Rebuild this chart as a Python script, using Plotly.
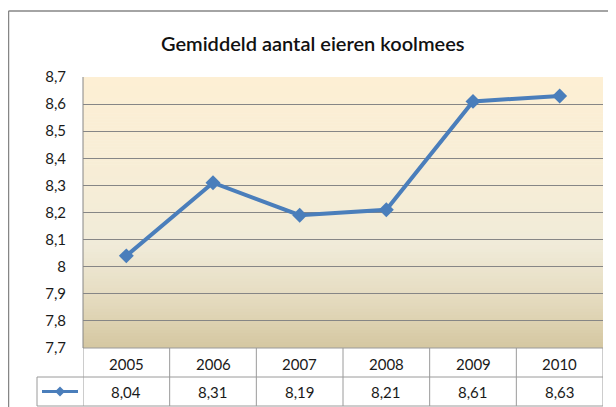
import plotly.graph_objects as go

years = ["2005", "2006", "2007", "2008", "2009", "2010"]
values = [8.04, 8.31, 8.19, 8.21, 8.61, 8.63]
title_text = "Gemiddeld aantal eieren koolmees"
y_min, y_max = 7.7, 8.7

# page has an 8px body margin; work in screen pixels, convert to figure pixels
OFF = 8
W, H = 608, 399
L, R, T, B = 83 - OFF, 603 - OFF, 77 - OFF, 348 - OFF

def px_x(p):  # screen px -> paper
    return (p - OFF - L) / (R - L)

def px_y(p):
    return (B - (p - OFF)) / (B - T)

def fmt(v):
    return f"{v:.2f}".replace(".", ",")

LINE = "#4A7EBB"
GRID = "#868686"
TXT = "#1a1a1a"
FONT = "Lato"

fig = go.Figure()
fig.add_trace(go.Scatter(
    x=list(range(len(years))), y=values, mode="lines+markers",
    line=dict(color=LINE, width=4),
    marker=dict(symbol="diamond", size=11.5, color=LINE),
    showlegend=False, hoverinfo="skip", cliponaxis=False,
))

shapes = []
stops = [(0.0, (253, 239, 212)), (0.45, (245, 237, 215)), (0.62, (240, 235, 217)),
         (0.8, (230, 221, 194)), (1.0, (213, 199, 161))]
def col(t):
    for i in range(len(stops) - 1):
        a, ca = stops[i]
        b, cb = stops[i + 1]
        if a <= t <= b:
            f = (t - a) / (b - a)
            return "rgb(%d,%d,%d)" % tuple(round(ca[k] + (cb[k] - ca[k]) * f) for k in range(3))
    return "rgb(%d,%d,%d)" % stops[-1][1]
N = 90
for i in range(N):
    t0 = i / N
    t1 = (i + 1) / N
    shapes.append(dict(type="rect", xref="paper", yref="paper", x0=0, x1=1,
                       y0=max(0, 1 - t1 - 0.002), y1=1 - t0, fillcolor=col((t0 + t1) / 2),
                       line=dict(width=0), layer="below"))

TB = "#9a9a9a"
row1, row2, row3 = 348, 377, 406
legend_left = 37
shapes.append(dict(type="line", xref="paper", yref="paper", x0=0, x1=1,
                   y0=px_y(row1), y1=px_y(row1), line=dict(color=TB, width=1)))
for yy in (row2, row3):
    shapes.append(dict(type="line", xref="paper", yref="paper", x0=px_x(legend_left), x1=1,
                       y0=px_y(yy), y1=px_y(yy), line=dict(color=TB, width=1)))
for i in range(len(years) + 1):
    shapes.append(dict(type="line", xref="x", yref="paper", x0=i - 0.5, x1=i - 0.5,
                       y0=px_y(row3), y1=px_y(row1), line=dict(color=TB, width=1)))
shapes.append(dict(type="line", xref="paper", yref="paper", x0=0, x1=0,
                   y0=px_y(row1), y1=1, line=dict(color=GRID, width=1)))
shapes.append(dict(type="line", xref="paper", yref="paper", x0=px_x(legend_left), x1=px_x(legend_left),
                   y0=px_y(row3), y1=px_y(row2), line=dict(color=TB, width=1)))
# legend key
cy = (row2 + row3) / 2
shapes.append(dict(type="line", xref="paper", yref="paper", x0=px_x(42), x1=px_x(78),
                   y0=px_y(cy), y1=px_y(cy), line=dict(color=LINE, width=3)))
cx, d = 60, 5
shapes.append(dict(type="path", xref="paper", yref="paper",
                   path="M %f %f L %f %f L %f %f L %f %f Z" % (
                       px_x(cx - d), px_y(cy), px_x(cx), px_y(cy - d),
                       px_x(cx + d), px_y(cy), px_x(cx), px_y(cy + d)),
                   fillcolor=LINE, line=dict(width=0)))
# outer chart border
shapes.append(dict(type="line", xref="paper", yref="paper", x0=px_x(8.5), x1=px_x(8.5),
                   y0=px_y(420), y1=px_y(11), line=dict(color=GRID, width=1.5)))
shapes.append(dict(type="line", xref="paper", yref="paper", x0=px_x(8.5), x1=px_x(630),
                   y0=px_y(11), y1=px_y(11), line=dict(color=GRID, width=1.5)))

annotations = []
for i, (yr, v) in enumerate(zip(years, values)):
    annotations.append(dict(x=i, xref="x", y=px_y((row1 + row2) / 2 + 1), yref="paper",
                            xanchor="center", yanchor="middle",
                            text=yr, showarrow=False, font=dict(family=FONT, size=15, color=TXT)))
    annotations.append(dict(x=i, xref="x", y=px_y((row2 + row3) / 2 + 1), yref="paper",
                            xanchor="center", yanchor="middle",
                            text=fmt(v), showarrow=False, font=dict(family=FONT, size=15, color=TXT)))
annotations.append(dict(x=px_x(313), xref="paper", y=px_y(43), yref="paper",
                        xanchor="center", yanchor="middle",
                        text=title_text, showarrow=False,
                        font=dict(family=FONT, size=20, color="#111111", weight=600)))

fig.update_layout(
    width=W, height=H,
    margin=dict(l=L, r=W - R, t=T, b=H - B),
    paper_bgcolor="white", plot_bgcolor="rgba(0,0,0,0)",
    separators=",.",
    shapes=shapes, annotations=annotations,
    xaxis=dict(range=[-0.5, len(years) - 0.5], showticklabels=False, showgrid=False,
               zeroline=False, showline=False, fixedrange=True),
    yaxis=dict(range=[y_min, y_max], dtick=0.1, tick0=7.7, showgrid=True, gridcolor=GRID,
               gridwidth=1, zeroline=False, showline=False, ticks="",
               ticklabelstandoff=16,
               tickfont=dict(family=FONT, size=15, color=TXT), fixedrange=True),
    font=dict(family=FONT),
)

fig.write_html("out.html")
